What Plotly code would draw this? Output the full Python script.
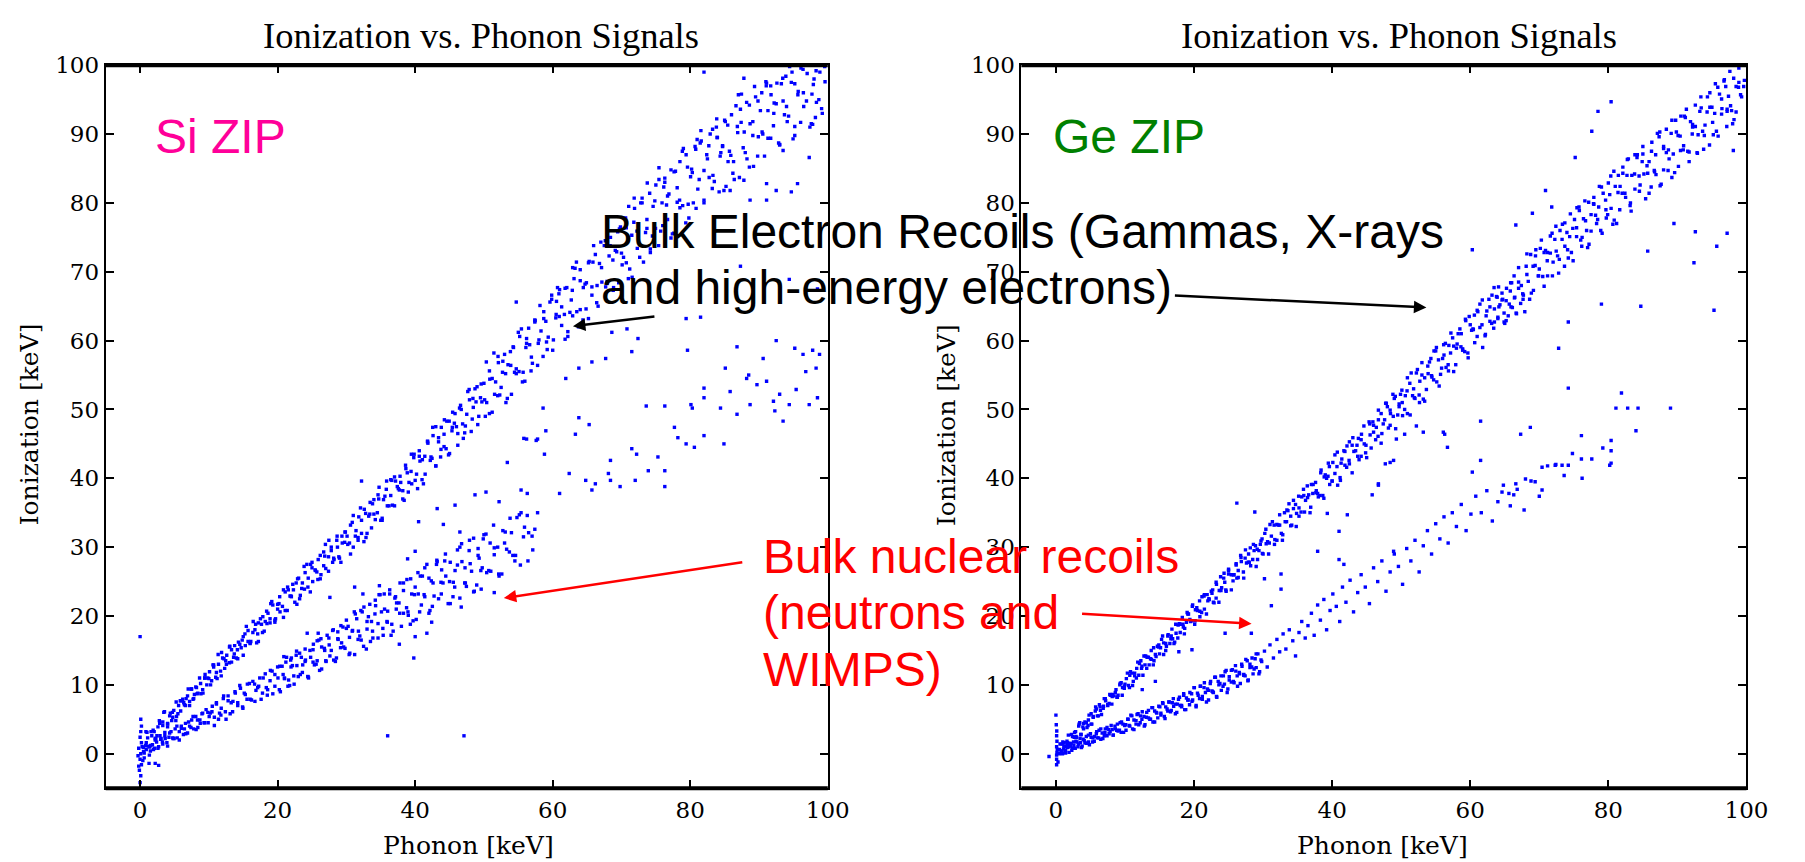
import plotly.graph_objects as go

W, H = 1805, 862

# ---------------- Si ZIP : (phonon keV, ionization keV) ----------------
si_electron = [
    (0.8, 1.2), (1.1, 2.3), (1.4, 1.0), (1.9, 3.4), (2.2, 2.0), (2.6, 3.9), (2.9, 2.6),
    (3.3, 4.6), (3.6, 3.1), (4.0, 4.3), (4.3, 5.5), (4.6, 4.8), (4.9, 6.3), (5.3, 5.4), (5.6, 7.0),
    (5.9, 6.2), (6.2, 7.9), (6.6, 7.0), (6.9, 8.4), (7.2, 7.6), (7.5, 9.4), (7.8, 8.0), (8.1, 9.7),
    (8.4, 8.8), (8.8, 10.2), (9.1, 9.3), (9.4, 11.0), (9.7, 10.0), (10.1, 11.9), (10.4, 10.6),
    (10.7, 12.9), (11.0, 11.1), (11.4, 13.0), (11.7, 12.0), (12.0, 13.9), (12.3, 12.4), (12.6, 14.3),
    (13.0, 13.2), (13.3, 15.1), (13.6, 14.0), (14.0, 13.9), (14.3, 16.2), (14.7, 15.4), (15.0, 17.0),
    (15.3, 15.7), (15.7, 17.9), (16.0, 16.0), (16.4, 17.6), (16.8, 18.8), (17.1, 17.4), (17.5, 19.6),
    (17.8, 17.6), (18.2, 19.2), (18.6, 20.4), (18.9, 19.0), (19.3, 21.6), (19.6, 19.4), (20.0, 21.0),
    (20.3, 22.8), (20.7, 21.4), (21.1, 23.5), (21.4, 20.8), (21.8, 22.9), (22.2, 24.6), (22.5, 22.0),
    (22.9, 25.4), (23.3, 23.0), (23.6, 24.8), (24.0, 26.3), (24.4, 24.2), (24.8, 27.5), (25.1, 25.0),
    (25.5, 26.6), (25.9, 28.2), (26.3, 26.0), (26.7, 29.3), (27.0, 26.9), (27.4, 28.6), (27.8, 30.0),
    (28.2, 28.2), (28.6, 31.0), (29.0, 28.4), (29.4, 30.6), (29.8, 32.2), (30.2, 30.4), (30.6, 33.2),
    (31.0, 30.0), (31.4, 32.4), (31.8, 34.4), (32.2, 32.0), (32.6, 35.5), (33.0, 32.0), (33.4, 34.8),
    (33.8, 36.3), (34.2, 34.0), (34.6, 37.6), (35.0, 33.9), (35.4, 36.9), (35.8, 38.4), (36.2, 36.0),
    (36.6, 39.7), (37.0, 36.0), (37.4, 38.8), (37.8, 40.3), (38.2, 38.2), (38.6, 41.9), (39.0, 38.0),
    (39.4, 41.0), (39.8, 43.0), (40.2, 40.6), (40.6, 44.0), (41.0, 39.8), (41.4, 43.2), (41.8, 45.3),
    (42.2, 42.6), (42.6, 46.2), (43.0, 41.8), (43.4, 45.3), (43.8, 47.4), (44.2, 44.6), (44.6, 48.3),
    (45.0, 43.6), (45.4, 47.4), (45.8, 49.4), (46.2, 46.5), (46.6, 50.6), (47.0, 45.8), (47.5, 49.3),
    (47.9, 51.4), (48.3, 48.6), (48.7, 53.0), (49.1, 47.8), (49.5, 51.7), (50.0, 53.8), (50.4, 51.0),
    (50.8, 55.6), (51.2, 49.6), (51.7, 54.0), (52.1, 56.8), (52.5, 53.2), (53.0, 58.0), (53.4, 51.6),
    (53.9, 56.4), (54.3, 59.0), (54.7, 55.2), (55.2, 60.6), (55.6, 54.0), (56.1, 59.0), (56.5, 61.8),
    (56.9, 57.6), (57.4, 63.0), (57.8, 56.4), (58.3, 61.4), (58.7, 64.2), (59.1, 59.8), (59.6, 65.6),
    (60.0, 58.6), (60.5, 63.8), (60.9, 66.8), (61.3, 62.2), (61.8, 67.6), (62.2, 60.6), (62.7, 65.9),
    (63.1, 69.0), (63.5, 64.2), (64.0, 70.3), (64.4, 63.0), (64.9, 68.4), (65.3, 71.5), (65.7, 66.6),
    (66.2, 72.5), (66.6, 65.0), (67.1, 70.6), (67.5, 73.8), (67.9, 68.6), (68.4, 75.0), (68.8, 67.3),
    (69.3, 72.9), (69.7, 76.2), (70.1, 71.0), (70.6, 77.8), (71.0, 69.0), (71.5, 75.3), (71.9, 79.2),
    (72.3, 73.4), (72.8, 80.0), (73.2, 71.4), (73.7, 77.6), (74.1, 81.4), (74.5, 75.2), (75.0, 82.6),
    (75.4, 73.8), (75.9, 80.0), (76.3, 83.6), (76.7, 77.6), (77.2, 84.8), (77.6, 75.6), (78.1, 82.2),
    (78.5, 86.0), (78.9, 79.6), (79.4, 87.0), (79.8, 77.8), (80.3, 84.4), (80.7, 88.2), (81.1, 82.0),
    (81.6, 89.0), (82.0, 80.0), (82.5, 86.4), (82.9, 90.0), (83.3, 84.0), (83.8, 91.0), (84.2, 81.6),
    (84.7, 88.2), (85.1, 91.8), (85.5, 86.0), (86.0, 92.8), (86.4, 83.4), (86.9, 90.2), (87.3, 93.6),
    (87.7, 88.0), (88.2, 94.6), (88.6, 85.2), (89.1, 91.8), (89.5, 95.4), (89.9, 89.6), (90.4, 96.0),
    (90.8, 86.8), (91.3, 93.4), (91.7, 97.0), (92.1, 91.2), (92.6, 97.4), (93.0, 88.4), (93.5, 94.8),
    (93.9, 98.4), (94.3, 92.6), (94.8, 99.0), (95.2, 89.8), (95.7, 96.2), (96.1, 99.6), (96.5, 94.0),
    (97.0, 98.8), (97.4, 91.0), (97.9, 97.2), (98.3, 99.2), (98.7, 95.0), (99.2, 93.0), (99.6, 97.6),
    (0.5, 0.9), (0.85, 3.2), (1.35, 1.0), (1.6, 3.2), (2.05, 3.2), (2.45, 2.6), (2.8, 4.8), (3.3, 4.1),
    (3.55, 6.1), (4.0, 3.9), (4.4, 5.9), (4.75, 5.3), (5.25, 7.5), (5.5, 5.8), (5.95, 7.7), (6.35, 7.4),
    (6.7, 8.0), (7.2, 7.0), (7.45, 9.4), (7.9, 8.6), (8.3, 8.7), (8.65, 11.0), (9.15, 8.8), (9.4, 11.0),
    (9.85, 11.0), (10.25, 10.0), (10.6, 12.9), (11.1, 11.8), (11.35, 14.4), (11.8, 11.3), (12.2, 13.8),
    (12.55, 13.0), (13.05, 15.6), (13.3, 13.3), (13.75, 15.7), (14.15, 15.1), (14.5, 15.9), (15.0, 14.3),
    (15.25, 17.4), (15.7, 16.3), (16.1, 16.3), (16.45, 19.2), (16.95, 16.1), (17.2, 19.0), (17.65, 18.8),
    (18.05, 17.8), (18.4, 20.7), (18.9, 19.6), (19.15, 22.1), (19.6, 19.1), (20.0, 21.7), (20.35, 20.6),
    (20.85, 23.8), (21.1, 20.8), (21.55, 23.8), (21.95, 22.9), (22.3, 23.8), (22.8, 21.7), (23.05, 25.5),
    (23.5, 24.0), (23.9, 23.9), (24.25, 27.5), (24.75, 23.5), (25.0, 27.0), (25.45, 26.7), (25.85, 25.3),
    (26.2, 28.8), (26.7, 27.3), (26.95, 30.4), (27.4, 26.5), (27.8, 29.5), (28.15, 28.4), (28.65, 31.6),
    (28.9, 28.6), (29.35, 31.6), (29.75, 30.7), (30.1, 31.6), (30.6, 29.0), (30.85, 33.6), (31.3, 31.6),
    (31.7, 31.4), (32.05, 35.7), (32.55, 30.8), (32.8, 34.9), (33.25, 34.5), (33.65, 32.8), (34.0, 36.9),
    (34.5, 35.0), (34.75, 38.7), (35.2, 33.9), (35.6, 37.4), (35.95, 36.0), (36.45, 39.8), (36.7, 36.1),
    (37.15, 39.6), (37.55, 38.5), (37.9, 39.4), (38.4, 36.8), (38.65, 41.4), (39.1, 39.4), (39.5, 39.2),
    (39.85, 43.5), (40.35, 38.5), (40.6, 43.2), (41.05, 42.7), (41.45, 40.6), (41.8, 45.4), (42.3, 43.1),
    (42.55, 47.4), (43.0, 41.8), (43.4, 45.9), (43.75, 44.2), (44.25, 48.5), (44.5, 44.3), (44.95, 48.3),
    (45.35, 46.9), (45.7, 48.0), (46.2, 44.8), (46.45, 50.2), (46.9, 47.9), (47.3, 47.6), (47.65, 52.6),
    (48.15, 46.8), (48.4, 51.6), (48.85, 51.1), (49.25, 49.0), (49.6, 53.7), (50.1, 51.4), (50.35, 56.9),
    (50.8, 49.4), (51.2, 54.5), (51.55, 52.2), (52.05, 57.7), (52.3, 52.1), (52.75, 57.0), (53.15, 55.2),
    (53.5, 56.5), (54.0, 52.2), (54.25, 59.1), (54.7, 55.9), (55.1, 55.5), (55.45, 61.7), (55.95, 54.1),
    (56.2, 60.3), (56.65, 59.4), (57.05, 56.7), (57.4, 62.7), (57.9, 59.6), (58.15, 65.1), (58.6, 57.7),
    (59.0, 62.8), (59.35, 60.5), (59.85, 66.0), (60.1, 60.1), (60.55, 65.7), (60.95, 63.5), (61.3, 64.9),
    (61.8, 60.2), (62.05, 67.7), (62.5, 64.1), (62.9, 63.6), (63.25, 70.5), (63.75, 62.0), (64.0, 68.7),
    (64.45, 67.7), (64.85, 64.6), (65.2, 71.3), (65.7, 67.8), (65.95, 73.8), (66.4, 65.5), (66.8, 71.2),
    (67.15, 68.5), (67.65, 74.5), (67.9, 68.3), (68.35, 73.8), (68.75, 71.7), (69.1, 73.1), (69.6, 68.4),
    (69.85, 76.5), (70.3, 72.1), (70.7, 71.3), (71.05, 79.5), (71.55, 69.2), (71.8, 77.2), (72.25, 75.9),
    (72.65, 72.1), (73.0, 80.0), (73.5, 75.7), (73.75, 82.9), (74.2, 72.8), (74.6, 79.5), (74.95, 76.3),
    (75.45, 83.4), (75.7, 75.9), (76.15, 82.3), (76.55, 79.7), (76.9, 81.3), (77.4, 75.5), (77.65, 84.5),
    (78.1, 80.1), (78.5, 79.3), (78.85, 87.5), (79.35, 77.1), (79.6, 85.2), (80.05, 83.8), (80.45, 80.0),
    (80.8, 87.8), (81.3, 83.4), (81.55, 90.5), (82.0, 80.4), (82.4, 87.0), (82.75, 83.7), (83.25, 90.7),
    (83.5, 83.1), (83.95, 89.5), (84.35, 86.8), (84.7, 88.3), (85.2, 82.4), (85.45, 91.3), (85.9, 86.9),
    (86.3, 86.0), (86.65, 94.1), (87.15, 83.7), (87.4, 91.7), (87.85, 90.3), (88.25, 86.4), (88.6, 94.2),
    (89.1, 89.8), (89.35, 96.9), (89.8, 86.8), (90.2, 93.4), (90.55, 90.0), (91.05, 97.0), (91.3, 89.4),
    (91.75, 95.7), (92.15, 93.0), (92.5, 94.4), (93.0, 88.5), (93.25, 97.3), (93.7, 92.8), (94.1, 91.8),
    (94.45, 99.8), (94.95, 89.3), (95.2, 97.3), (95.65, 95.7), (96.05, 91.7), (96.4, 99.4), (96.9, 94.8),
    (97.6, 91.5), (98.0, 98.0), (98.35, 94.6), (99.1, 93.7), (99.55, 99.8),
    (1.0, 3.1), (1.7, 2.6), (2.2, 2.2), (2.85, 4.4), (3.45, 6.0), (4.0, 4.4), (4.7, 6.0), (5.2, 4.8),
    (5.85, 7.7), (6.45, 7.1), (7.0, 9.4), (7.7, 7.9), (8.2, 9.6), (8.85, 8.7), (9.45, 11.5), (10.0, 10.9),
    (10.7, 12.6), (11.2, 10.9), (11.85, 14.7), (12.45, 13.5), (13.0, 15.5), (13.7, 14.5), (14.2, 13.8),
    (14.85, 16.5), (15.45, 18.5), (16.0, 16.1), (16.7, 18.0), (17.2, 16.3), (17.85, 19.9), (18.45, 18.9),
    (19.0, 21.8), (19.7, 19.6), (20.2, 21.8), (20.85, 19.8), (21.45, 24.2), (22.0, 22.8), (22.7, 24.8),
    (23.2, 22.5), (23.85, 27.2), (24.45, 25.5), (25.0, 27.8), (25.7, 26.4), (26.2, 25.4), (26.85, 28.7),
    (27.45, 31.0), (28.0, 27.8), (28.7, 30.0), (29.2, 27.8), (29.85, 32.2), (30.45, 30.6), (31.0, 34.6),
    (31.7, 31.0), (32.2, 33.9), (32.85, 31.4), (33.45, 36.5), (34.0, 34.8), (34.7, 37.0), (35.2, 34.2),
    (35.85, 39.6), (36.45, 37.5), (37.0, 40.2), (37.7, 38.3), (38.2, 37.0), (38.85, 40.8), (39.45, 43.5),
    (40.0, 39.7), (40.7, 42.5), (41.2, 39.2), (41.85, 45.1), (42.45, 42.9), (43.0, 47.5), (43.7, 43.1),
    (44.2, 46.4), (44.85, 43.4), (45.45, 49.6), (46.0, 47.5), (46.7, 50.0), (47.2, 46.6), (47.85, 52.9),
    (48.45, 50.3), (49.0, 53.3), (49.7, 51.1), (50.2, 49.0), (50.85, 54.4), (51.45, 58.2), (52.0, 52.0),
    (52.7, 55.4), (53.2, 51.0), (53.85, 58.4), (54.45, 55.4), (55.0, 61.2), (55.7, 55.4), (56.2, 59.6),
    (56.85, 55.6), (57.45, 62.9), (58.0, 60.1), (58.7, 63.2), (59.2, 58.7), (59.85, 66.6), (60.45, 63.3),
    (61.0, 67.4), (61.7, 63.8), (62.2, 61.3), (62.85, 67.3), (63.45, 71.4), (64.0, 64.5), (64.7, 68.2),
    (65.2, 63.2), (65.85, 71.4), (66.45, 68.0), (67.0, 74.3), (67.7, 67.8), (68.2, 72.3), (68.85, 67.7),
    (69.45, 75.8), (70.0, 72.7), (70.7, 76.4), (71.2, 70.4), (71.85, 80.7), (72.45, 75.9), (73.0, 80.7),
    (73.7, 76.3), (74.2, 73.3), (74.85, 80.3), (75.45, 85.1), (76.0, 76.7), (76.7, 81.0), (77.2, 74.9),
    (77.85, 84.6), (78.45, 80.4), (79.0, 87.9), (79.7, 79.8), (80.2, 84.9), (80.85, 79.2), (81.45, 88.7),
    (82.0, 84.7), (82.7, 88.3), (83.2, 82.1), (83.85, 92.2), (84.45, 87.3), (85.0, 92.0), (85.7, 87.5),
    (86.2, 84.3), (86.85, 91.1), (87.45, 95.8), (88.0, 87.3), (88.7, 91.5), (89.2, 85.3), (89.85, 94.8),
    (90.45, 90.3), (91.0, 97.6), (91.7, 89.4), (92.2, 94.5), (92.85, 88.7), (93.45, 98.1), (94.0, 94.0),
    (94.7, 97.5), (95.2, 91.1), (96.45, 96.0), (97.7, 95.8), (98.2, 92.4), (98.85, 99.0),
]

si_nuclear = [
    (0.9, 0.6), (1.2, 1.1), (1.5, 0.4), (1.8, 1.3), (2.1, 0.8), (2.4, 1.7), (2.7, 1.0), (3.0, 2.1),
    (3.3, 1.4), (3.6, 2.6), (3.9, 1.6), (4.2, 2.4), (4.5, 3.2), (4.8, 2.2), (5.1, 3.6), (5.4, 2.3),
    (5.7, 3.2), (6.0, 4.0), (6.3, 2.8), (6.6, 4.4), (6.9, 3.0), (7.2, 4.0), (7.5, 4.9), (7.8, 3.6),
    (8.1, 5.4), (8.4, 3.8), (8.7, 4.9), (9.0, 5.8), (9.3, 4.5), (9.6, 6.4), (9.9, 4.5), (10.2, 5.9),
    (10.5, 6.9), (10.8, 5.3), (11.1, 7.4), (11.4, 5.0), (11.8, 6.6), (12.1, 8.0), (12.4, 6.1),
    (12.8, 8.4), (13.1, 5.8), (13.5, 7.6), (13.8, 9.0), (14.2, 7.0), (14.6, 9.5), (14.9, 6.8),
    (15.3, 8.6), (15.6, 10.1), (16.0, 7.9), (16.4, 10.5), (16.7, 7.6), (17.1, 9.6), (17.4, 11.0),
    (17.8, 8.8), (18.2, 11.6), (18.5, 8.5), (18.9, 10.6), (19.2, 12.0), (19.6, 9.8), (20.0, 12.6),
    (20.4, 9.0), (20.8, 11.5), (21.2, 13.3), (21.6, 10.7), (22.0, 13.9), (22.4, 10.1), (22.8, 12.8),
    (23.2, 14.6), (23.6, 11.8), (24.0, 15.2), (24.4, 11.2), (24.8, 14.0), (25.2, 15.9), (25.6, 13.0),
    (26.0, 16.5), (26.4, 12.3), (26.8, 15.3), (27.2, 17.2), (27.6, 14.2), (28.0, 17.9), (28.4, 13.4),
    (28.8, 16.6), (29.2, 18.6), (29.6, 15.5), (30.0, 19.4), (30.4, 14.4), (30.9, 17.9), (31.3, 20.3),
    (31.7, 16.6), (32.1, 20.8), (32.5, 15.6), (33.0, 19.2), (33.4, 21.7), (33.8, 17.8), (34.2, 22.3),
    (34.6, 16.8), (35.1, 20.6), (35.5, 23.2), (35.9, 19.2), (36.3, 23.8), (36.8, 17.8), (37.3, 21.9),
    (37.8, 24.8), (38.3, 20.4), (38.8, 25.3), (39.3, 18.8), (39.9, 23.1), (40.4, 26.3), (40.9, 21.6),
    (41.4, 27.0), (42.0, 20.4), (42.6, 24.8), (43.2, 27.9), (43.8, 23.2), (44.4, 29.0), (45.1, 21.8),
    (45.8, 26.6), (46.5, 30.0), (47.2, 24.8), (47.9, 31.0), (48.6, 23.6), (49.3, 28.4), (50.0, 31.8),
    (50.7, 26.6), (51.4, 33.2), (52.2, 25.8), (53.0, 30.6), (53.8, 34.2), (54.6, 28.8), (55.4, 35.0),
    (56.4, 28.0), (57.4, 32.6),
    (0.6, 0.1), (0.9, 1.6), (1.35, -0.2), (1.55, 1.2), (1.95, 0.6), (2.3, 2.2), (2.6, 0.8), (3.05, 2.2),
    (3.25, 1.7), (3.65, 2.2), (4.0, 1.1), (4.3, 3.0), (4.75, 2.3), (4.95, 2.2), (5.35, 4.0), (5.7, 2.0),
    (6.0, 3.7), (6.45, 3.6), (6.65, 2.9), (7.05, 4.6), (7.4, 3.8), (7.7, 5.4), (8.15, 3.5), (8.35, 4.9),
    (8.75, 4.4), (9.1, 5.9), (9.4, 4.5), (9.85, 6.0), (10.05, 5.4), (10.45, 6.1), (10.8, 4.1), (11.1, 7.2),
    (11.55, 5.9), (11.75, 5.6), (12.15, 8.4), (12.5, 5.0), (12.8, 7.7), (13.25, 7.4), (13.45, 6.1),
    (13.85, 8.8), (14.2, 7.4), (14.5, 9.9), (14.95, 6.6), (15.15, 8.8), (15.55, 7.9), (15.9, 10.2),
    (16.2, 7.8), (16.65, 10.1), (16.85, 9.2), (17.25, 9.8), (17.6, 7.9), (17.9, 11.0), (18.35, 9.6),
    (18.55, 9.3), (18.95, 12.1), (19.3, 8.7), (19.6, 11.5), (20.05, 11.0), (20.25, 9.3), (20.65, 12.7),
    (21.0, 10.9), (21.3, 14.0), (21.75, 9.9), (21.95, 12.6), (22.35, 11.3), (22.7, 14.3), (23.0, 11.2),
    (23.45, 14.0), (23.65, 12.9), (24.05, 13.6), (24.4, 11.2), (24.7, 15.0), (25.15, 13.3), (25.35, 12.9),
    (25.75, 16.4), (26.1, 12.1), (26.4, 15.5), (26.85, 15.0), (27.05, 13.4), (27.45, 16.8), (27.8, 15.0),
    (28.1, 18.0), (28.55, 13.9), (28.75, 16.7), (29.15, 15.4), (29.5, 18.4), (29.8, 15.3), (30.25, 18.5),
    (30.45, 16.9), (30.85, 17.8), (31.2, 14.4), (31.5, 19.6), (31.95, 17.1), (32.15, 16.5), (32.55, 21.3),
    (32.9, 15.2), (33.2, 19.9), (33.65, 19.2), (33.85, 16.8), (34.25, 21.5), (34.6, 18.9), (34.9, 23.1),
    (35.35, 17.2), (35.55, 21.0), (35.95, 19.1), (36.3, 23.2), (36.6, 18.8), (37.05, 22.6), (37.25, 21.0),
    (37.65, 21.9), (38.0, 18.5), (38.3, 23.7), (38.75, 21.2), (38.95, 20.6), (39.35, 25.4), (39.7, 19.3),
    (40.0, 24.2), (40.45, 23.2), (40.65, 20.6), (41.05, 25.8), (41.4, 22.8), (41.7, 27.5), (42.15, 20.8),
    (42.35, 25.1), (42.75, 22.9), (43.1, 27.5), (43.4, 22.5), (43.85, 26.7), (44.05, 24.8), (44.45, 25.8),
    (44.8, 21.8), (45.1, 27.8), (45.55, 24.9), (45.75, 24.2), (46.15, 29.6), (46.5, 22.6), (46.8, 27.9),
    (47.25, 27.0), (47.45, 24.3), (47.85, 29.5), (48.2, 26.5), (48.5, 31.3), (48.95, 24.5), (49.15, 28.8),
    (49.55, 26.6), (49.9, 31.2), (50.4, 26.3), (50.9, 30.6), (51.5, 28.9), (52.0, 30.0), (52.6, 26.1),
    (53.1, 32.2), (53.7, 29.3), (54.2, 28.8), (54.8, 34.3), (55.3, 27.4), (55.9, 32.9), (56.5, 32.1),
    (57.1, 29.6), (57.8, 35.0),
    (20.3, 12.7), (21.0, 11.0), (21.5, 9.8), (22.15, 12.8), (22.75, 14.9), (23.3, 11.5), (24.0, 13.4),
    (24.5, 11.0), (25.15, 15.1), (25.75, 13.5), (26.3, 16.7), (27.0, 13.5), (27.5, 15.8), (28.15, 13.6),
    (28.75, 17.7), (29.3, 16.1), (30.0, 18.2), (30.5, 14.6), (31.15, 20.6), (31.75, 17.8), (32.3, 20.6),
    (33.0, 18.1), (33.5, 16.3), (34.15, 20.3), (34.75, 23.1), (35.3, 18.2), (36.0, 20.7), (36.5, 17.2),
    (37.15, 22.8), (37.75, 20.4), (38.3, 24.8), (39.0, 20.1), (39.5, 23.2), (40.15, 19.5), (40.75, 25.8),
    (41.3, 23.1), (42.0, 25.5), (42.5, 21.4), (43.15, 28.1), (43.75, 24.9), (44.3, 28.0), (45.0, 25.0),
    (45.5, 22.8), (46.15, 27.4), (46.75, 30.5), (47.3, 24.8), (48.0, 27.6), (48.5, 23.5), (49.15, 29.8),
    (49.75, 27.0), (50.3, 31.9), (51.0, 26.5), (51.5, 29.9), (52.15, 26.1), (52.75, 32.4), (53.3, 29.7),
    (54.0, 32.1), (54.5, 28.0), (55.15, 34.7), (55.75, 31.5), (56.3, 34.6), (57.0, 31.6),
    (61.0, 37.8), (62.4, 40.7), (64.8, 39.7), (65.7, 38.3), (66.2, 39.2), (68.1, 40.7), (68.4, 39.7),
    (69.8, 38.8), (72.0, 39.7), (73.9, 41.1), (76.3, 41.1), (76.3, 38.8), (75.3, 43.1), (78.2, 45.9),
    (79.4, 45.0), (80.6, 44.5), (82.0, 46.2), (84.9, 45.0), (77.7, 47.4), (80.3, 50.2), (82.0, 51.7),
    (84.4, 50.2), (86.8, 49.3), (88.7, 50.7), (85.8, 52.6), (88.2, 54.5), (91.1, 54.1), (92.1, 51.2),
    (94.4, 50.7), (93.5, 48.3), (92.3, 49.8), (93.0, 52.2), (95.4, 52.9), (97.3, 50.7), (98.5, 51.7),
    (96.8, 55.5), (95.2, 58.9), (96.4, 58.0), (97.8, 58.6), (98.8, 58.0), (90.6, 57.4), (92.5, 60.0),
    (85.1, 56.0), (88.5, 55.0), (76.3, 50.5), (73.6, 50.5), (80.1, 50.7), (71.5, 44.3), (68.4, 42.6),
    (72.2, 43.5), (82.0, 53.1), (79.6, 58.6), (86.8, 59.1), (89.7, 53.6), (58.8, 43.5), (59.0, 46.9),
    (56.2, 45.7), (63.8, 48.8), (65.3, 47.8), (63.3, 46.4), (58.6, 50.2), (57.6, 45.5), (98.3, 56.0),
]

si_other = [
    (0.0, -4.2), (0.1, -3.2), (-0.1, -2.4), (0.2, -1.6), (0.0, -0.8), (0.1, 0.0), (-0.2, 0.8),
    (0.2, 1.6), (0.0, 2.4), (0.1, 3.2), (0.2, 4.0), (0.1, 5.0), (-0.3, -0.3), (0.4, -1.0), (0.3, 1.0),
    (0.5, 0.3), (-0.2, -1.8), (0.6, -0.6), (0.0, 17.0), (1.3, -1.4), (2.2, -1.4), (2.7, -1.7),
    (36.0, 2.6), (47.1, 2.6), (32.2, 39.6), (39.8, 13.9), (37.7, 15.9), (53.4, 42.3), (55.8, 45.8),
    (57.8, 45.7), (48.7, 37.6), (50.3, 38.0), (52.2, 36.6), (55.4, 38.3), (56.3, 37.8), (45.8, 36.1),
    (43.2, 35.6), (44.1, 33.3), (46.5, 32.2), (40.5, 33.7), (38.9, 28.3), (40.0, 29.4), (34.8, 24.4),
    (31.2, 24.2), (32.4, 23.2), (27.6, 22.7), (24.3, 17.5), (25.9, 17.5), (20.9, 14.1), (21.9, 13.6),
    (49.6, 23.9), (51.5, 23.4), (42.4, 19.1), (41.7, 17.5), (40.0, 17.0), (46.7, 21.3),
    (91.1, 82.8), (92.5, 81.8), (94.7, 81.6), (95.6, 82.8), (97.3, 86.6), (97.8, 91.4), (93.5, 87.6),
    (84.9, 81.8), (85.8, 81.8), (88.7, 80.4), (91.1, 80.4), (87.8, 83.3), (81.0, 89.2), (82.0, 99.0),
    (87.8, 98.1), (79.4, 63.2), (81.5, 63.4), (71.5, 58.4), (67.7, 57.4), (68.6, 61.2), (70.8, 61.7),
    (72.4, 60.3), (65.7, 56.9), (61.9, 54.5), (63.8, 56.0), (87.3, 70.8), (94.4, 68.9), (98.5, 67.5),
    (54.7, 65.6), (62.9, 70.6), (60.7, 67.7), (76.3, 83.0), (83.9, 89.5), (87.0, 95.7), (91.1, 97.4),
]

# ---------------- Ge ZIP : (phonon keV, ionization keV) ----------------
ge_electron = [
    (0.6, 1.4), (0.9, 0.4), (1.2, 1.6), (1.5, 1.0), (1.8, 2.7), (2.1, 1.4), (2.4, 2.5), (2.7, 3.1),
    (3.0, 2.4), (3.3, 4.0), (3.6, 2.8), (3.9, 3.9), (4.2, 4.6), (4.5, 3.8), (4.8, 5.6), (5.1, 4.3),
    (5.4, 5.4), (5.7, 6.2), (6.0, 5.5), (6.3, 7.1), (6.6, 5.7), (6.9, 6.9), (7.2, 7.7), (7.5, 7.0),
    (7.8, 8.6), (8.1, 7.2), (8.4, 8.4), (8.7, 9.3), (9.0, 8.5), (9.3, 10.2), (9.6, 8.5), (9.9, 9.8),
    (10.2, 10.9), (10.5, 9.9), (10.8, 11.9), (11.1, 9.9), (11.4, 11.3), (11.7, 12.4), (12.0, 11.4),
    (12.3, 13.5), (12.6, 11.4), (12.9, 12.9), (13.2, 14.0), (13.5, 12.9), (13.8, 15.0), (14.1, 12.9),
    (14.4, 14.4), (14.7, 15.6), (15.0, 14.5), (15.3, 16.6), (15.6, 14.4), (15.9, 16.0), (16.2, 17.1),
    (16.5, 16.0), (16.8, 18.1), (17.1, 16.0), (17.4, 17.5), (17.7, 18.7), (18.0, 17.6), (18.3, 19.8),
    (18.6, 17.4), (18.9, 19.1), (19.2, 20.3), (19.5, 19.2), (19.8, 21.6), (20.1, 18.8), (20.5, 20.8),
    (20.8, 22.2), (21.1, 20.5), (21.5, 23.1), (21.8, 20.3), (22.2, 22.4), (22.5, 23.6), (22.8, 22.0),
    (23.2, 24.9), (23.6, 22.0), (24.0, 24.1), (24.3, 25.5), (24.6, 23.8), (25.0, 26.8), (25.4, 23.8),
    (25.8, 26.0), (26.1, 27.4), (26.4, 25.6), (26.8, 28.5), (27.2, 25.5), (27.6, 27.7), (27.9, 29.0),
    (28.2, 27.3), (28.6, 30.4), (29.0, 27.2), (29.4, 29.5), (29.7, 30.9), (30.0, 29.0), (30.4, 32.6),
    (30.8, 29.0), (31.2, 31.6), (31.6, 33.2), (32.0, 31.0), (32.4, 34.7), (32.8, 31.0), (33.2, 33.7),
    (33.6, 35.3), (34.0, 33.1), (34.4, 36.8), (34.8, 33.0), (35.2, 35.7), (35.6, 37.3), (36.0, 35.1),
    (36.4, 38.9), (36.8, 35.0), (37.2, 37.8), (37.6, 39.4), (38.0, 37.3), (38.4, 41.2), (38.8, 37.1),
    (39.2, 40.0), (39.6, 41.7), (40.0, 39.6), (40.4, 43.4), (40.8, 39.0), (41.3, 42.2), (41.7, 44.0),
    (42.1, 41.6), (42.5, 45.3), (42.9, 40.8), (43.4, 44.0), (43.8, 45.8), (44.2, 43.2), (44.6, 47.6),
    (45.0, 43.0), (45.5, 46.3), (45.9, 48.2), (46.3, 45.6), (46.7, 49.9), (47.1, 45.1), (47.6, 48.5),
    (48.0, 50.4), (48.4, 47.7), (48.8, 52.2), (49.2, 47.2), (49.7, 50.8), (50.1, 52.8), (50.5, 50.0),
    (50.9, 54.6), (51.3, 49.2), (51.8, 53.0), (52.2, 55.3), (52.6, 52.1), (53.0, 56.8), (53.4, 51.2),
    (53.9, 55.2), (54.3, 57.4), (54.7, 54.3), (55.1, 59.0), (55.5, 53.4), (56.0, 57.4), (56.4, 59.6),
    (56.8, 56.5), (57.2, 61.1), (57.6, 55.5), (58.1, 59.5), (58.5, 61.7), (58.9, 58.6), (59.3, 63.1),
    (59.7, 57.5), (60.2, 61.5), (60.6, 63.7), (61.0, 60.6), (61.4, 65.3), (61.8, 59.0), (62.3, 63.6),
    (62.7, 66.0), (63.1, 62.5), (63.5, 64.6), (63.8, 66.4), (64.0, 63.2), (64.3, 65.2), (64.6, 66.9),
    (64.9, 64.0), (65.2, 65.8), (65.5, 63.6), (65.8, 67.2), (66.1, 64.8), (66.4, 66.2), (66.7, 63.9),
    (67.0, 67.6), (67.3, 65.4), (64.1, 67.8), (65.0, 62.5), (66.0, 68.4), (63.4, 61.8), (67.6, 66.8),
    (67.9, 64.2), (68.2, 72.6), (68.6, 66.0), (69.1, 70.8), (69.5, 73.2), (69.9, 69.4), (70.3, 74.6),
    (70.7, 67.9), (71.2, 72.8), (71.6, 75.2), (72.0, 71.4), (72.4, 76.6), (72.8, 69.8), (73.3, 74.7),
    (73.7, 77.1), (74.1, 73.2), (74.5, 78.4), (74.9, 71.6), (75.4, 76.4), (75.8, 78.9), (76.2, 75.0),
    (76.6, 80.3), (77.0, 73.5), (77.5, 78.3), (77.9, 80.8), (78.3, 77.0), (78.7, 82.4), (79.1, 75.6),
    (79.6, 80.4), (80.0, 82.9), (80.4, 79.2), (80.8, 84.6), (81.2, 77.0), (81.7, 82.4), (82.1, 85.2),
    (82.5, 80.8), (82.9, 86.4), (83.3, 78.8), (83.8, 84.2), (84.2, 87.0), (84.6, 82.6), (85.0, 88.2),
    (85.4, 80.6), (85.9, 86.0), (86.3, 88.8), (86.7, 84.5), (87.1, 90.1), (87.5, 82.5), (88.0, 87.9),
    (88.4, 90.7), (88.8, 86.4), (89.2, 92.0), (89.6, 84.4), (90.1, 89.8), (90.5, 92.6), (90.9, 88.3),
    (91.3, 93.6), (91.7, 86.0), (92.2, 91.4), (92.6, 94.2), (93.0, 89.9), (93.4, 95.4), (93.8, 87.8),
    (94.3, 93.2), (94.7, 96.0), (95.1, 91.7), (95.5, 97.3), (95.9, 89.7), (96.4, 95.1), (96.8, 97.9),
    (97.2, 93.6), (97.6, 99.1), (98.0, 91.5), (98.5, 96.9), (98.9, 99.6), (99.3, 95.4), (99.7, 97.8),
    (0.5, 0.0), (0.9, 1.4), (1.15, 1.1), (1.6, 1.8), (1.9, 1.0), (2.25, 2.8), (2.65, 2.4), (2.9, 2.5),
    (3.35, 4.3), (3.65, 2.8), (4.0, 4.4), (4.4, 4.5), (4.65, 4.1), (5.1, 5.8), (5.4, 5.3), (5.75, 6.8),
    (6.15, 5.5), (6.4, 6.8), (6.85, 6.6), (7.15, 8.0), (7.5, 7.1), (7.9, 8.5), (8.15, 8.3), (8.6, 8.9),
    (8.9, 8.2), (9.25, 10.0), (9.65, 9.6), (9.9, 9.5), (10.35, 11.7), (10.65, 9.6), (11.0, 11.7),
    (11.4, 11.7), (11.65, 11.0), (12.1, 13.1), (12.4, 12.4), (12.75, 14.2), (13.15, 12.4), (13.4, 14.0),
    (13.85, 13.7), (14.15, 15.4), (14.5, 14.1), (14.9, 15.8), (15.15, 15.4), (15.6, 16.1), (15.9, 15.0),
    (16.25, 17.3), (16.65, 16.7), (16.9, 16.7), (17.35, 18.8), (17.65, 16.8), (18.0, 18.8), (18.4, 18.8),
    (18.65, 18.2), (19.1, 20.3), (19.4, 19.5), (19.75, 21.4), (20.15, 19.3), (20.4, 21.2), (20.85, 20.7),
    (21.15, 22.8), (21.5, 21.0), (21.9, 23.1), (22.15, 22.5), (22.6, 23.3), (22.9, 21.9), (23.25, 24.6),
    (23.65, 23.7), (23.9, 23.7), (24.35, 26.2), (24.65, 23.6), (25.0, 26.1), (25.4, 26.0), (25.65, 25.1),
    (26.1, 27.6), (26.4, 26.6), (26.75, 28.8), (27.15, 26.4), (27.4, 28.4), (27.85, 27.8), (28.15, 29.9),
    (28.5, 28.2), (28.9, 30.2), (29.15, 29.7), (29.6, 30.4), (29.9, 29.1), (30.25, 32.0), (30.65, 30.8),
    (30.9, 30.6), (31.35, 33.7), (31.65, 30.4), (32.0, 33.3), (32.4, 33.2), (32.65, 32.0), (33.1, 35.0),
    (33.4, 33.7), (33.75, 36.3), (34.15, 33.2), (34.4, 35.6), (34.85, 34.9), (35.15, 37.4), (35.5, 35.1),
    (35.9, 37.5), (36.15, 36.8), (36.6, 37.6), (36.9, 35.8), (37.25, 39.1), (37.65, 37.9), (37.9, 37.8),
    (38.35, 40.8), (38.65, 37.5), (39.0, 40.5), (39.4, 40.3), (39.65, 39.1), (40.1, 42.3), (40.4, 40.7),
    (40.75, 43.8), (41.15, 40.1), (41.4, 42.8), (41.85, 41.9), (42.15, 44.7), (42.5, 42.1), (42.9, 44.8),
    (43.15, 43.9), (43.6, 44.8), (43.9, 42.7), (44.25, 46.4), (44.65, 45.0), (44.9, 44.8), (45.35, 48.2),
    (45.65, 44.4), (46.0, 47.7), (46.4, 47.4), (46.65, 46.1), (47.1, 49.4), (47.4, 47.9), (47.75, 50.9),
    (48.15, 47.3), (48.4, 49.9), (48.85, 49.0), (49.15, 51.9), (49.5, 49.2), (49.9, 52.2), (50.15, 51.0),
    (50.6, 52.0), (50.9, 49.4), (51.25, 53.8), (51.65, 52.0), (51.9, 51.7), (52.35, 55.8), (52.65, 51.0),
    (53.0, 55.0), (53.4, 54.6), (53.65, 52.9), (54.1, 56.9), (54.4, 54.9), (54.75, 58.5), (55.15, 54.0),
    (55.4, 57.2), (55.85, 56.0), (56.15, 59.4), (56.5, 56.1), (56.9, 59.3), (57.15, 58.2), (57.6, 59.2),
    (57.9, 56.5), (58.25, 61.0), (58.65, 59.1), (58.9, 58.8), (59.35, 62.9), (59.65, 58.2), (60.0, 62.3),
    (60.4, 61.7), (60.65, 59.7), (61.1, 64.2), (61.4, 61.9), (61.75, 65.9), (62.15, 60.7), (62.4, 64.3),
    (62.85, 62.8), (63.15, 66.6), (63.5, 62.7), (63.9, 66.3), (64.15, 64.9), (64.6, 65.9), (64.9, 62.7),
    (65.25, 67.6), (65.65, 65.3), (65.9, 64.9), (66.35, 69.4), (66.65, 64.0), (67.0, 68.5), (67.4, 68.0),
    (67.65, 66.0), (68.1, 70.8), (68.4, 68.6), (68.75, 72.5), (69.15, 67.3), (69.4, 70.9), (69.85, 69.4),
    (70.15, 73.4), (70.5, 69.3), (70.9, 73.1), (71.15, 71.6), (71.6, 72.7), (71.9, 69.4), (72.25, 74.7),
    (72.65, 72.3), (72.9, 71.8), (73.35, 76.9), (73.65, 70.8), (74.0, 75.7), (74.4, 75.1), (74.65, 72.8),
    (75.1, 77.6), (75.4, 75.1), (75.75, 79.4), (76.15, 73.7), (76.4, 77.7), (76.85, 76.0), (77.15, 80.1),
    (77.5, 75.9), (77.9, 79.8), (78.15, 78.2), (78.6, 79.4), (78.9, 76.0), (79.25, 81.4), (79.65, 79.0),
    (79.9, 78.3), (80.35, 83.9), (80.65, 76.9), (81.0, 82.4), (81.4, 81.5), (81.65, 79.0), (82.1, 84.3),
    (82.4, 81.4), (82.75, 86.3), (83.15, 79.6), (83.4, 84.0), (83.85, 82.0), (84.15, 86.6), (84.5, 81.7),
    (84.9, 86.0), (85.15, 84.2), (85.6, 85.4), (85.9, 81.4), (86.25, 87.5), (86.65, 84.7), (86.9, 84.1),
    (87.35, 89.6), (87.65, 82.7), (88.0, 88.2), (88.4, 87.3), (88.65, 84.7), (89.1, 90.1), (89.4, 87.1),
    (89.75, 92.0), (90.15, 85.3), (90.4, 89.7), (90.85, 87.7), (91.15, 92.4), (91.5, 87.5), (91.9, 91.8),
    (92.15, 90.0), (92.6, 91.1), (92.9, 87.2), (93.25, 93.3), (93.65, 90.4), (93.9, 89.8), (94.35, 95.4),
    (94.65, 88.4), (95.0, 93.9), (95.4, 93.0), (95.65, 90.4), (96.1, 95.8), (96.4, 92.9), (96.75, 97.7),
    (97.15, 91.1), (97.4, 95.5), (97.85, 93.4), (98.15, 98.1), (98.5, 93.2), (98.9, 97.5), (99.15, 95.7),
    (99.6, 96.9),
    (1.0, 1.7), (1.7, 1.6), (2.2, 1.5), (2.85, 3.2), (3.45, 4.5), (4.0, 3.6), (4.7, 4.9), (5.2, 4.3),
    (5.85, 6.5), (6.45, 6.3), (7.0, 8.0), (7.7, 7.3), (8.2, 8.6), (8.85, 8.2), (9.45, 10.3), (10.0, 10.1),
    (10.7, 11.4), (11.2, 10.5), (11.85, 13.3), (12.45, 12.7), (13.0, 14.2), (13.7, 13.8), (14.2, 13.5),
    (14.85, 15.5), (15.45, 17.1), (16.0, 15.6), (16.7, 17.1), (17.2, 16.2), (17.85, 18.9), (18.45, 18.4),
    (19.0, 20.5), (19.7, 19.3), (20.2, 20.9), (20.85, 19.9), (21.45, 22.9), (22.0, 22.2), (22.7, 23.8),
    (23.2, 22.6), (23.85, 25.7), (24.45, 24.9), (25.0, 26.6), (25.7, 26.0), (26.2, 25.5), (26.85, 27.9),
    (27.45, 29.6), (28.0, 27.8), (28.7, 29.5), (29.2, 28.2), (29.85, 31.2), (30.45, 30.5), (31.0, 33.3),
    (31.7, 31.1), (32.2, 33.2), (32.85, 31.8), (33.45, 35.4), (34.0, 34.5), (34.7, 36.2), (35.2, 34.5),
    (35.85, 38.4), (36.45, 37.2), (37.0, 39.1), (37.7, 38.2), (38.2, 37.5), (38.85, 40.2), (39.45, 42.2),
    (40.0, 39.6), (40.7, 41.7), (41.2, 39.7), (41.85, 43.9), (42.45, 42.6), (43.0, 45.9), (43.7, 43.2),
    (44.2, 45.6), (44.85, 43.7), (45.45, 47.9), (46.0, 46.7), (46.7, 48.5), (47.2, 46.5), (47.85, 50.9),
    (48.45, 49.4), (49.0, 51.6), (49.7, 50.4), (50.2, 49.1), (50.85, 52.7), (51.45, 55.3), (52.0, 51.6),
    (52.7, 54.1), (53.2, 51.5), (53.85, 56.3), (54.45, 54.7), (55.0, 58.5), (55.7, 55.1), (56.2, 57.9),
    (56.85, 55.6), (57.45, 60.4), (58.0, 58.9), (58.7, 61.0), (59.2, 58.4), (59.85, 63.5), (60.45, 61.6),
    (61.0, 64.4), (61.7, 62.3), (62.2, 60.9), (62.85, 64.9), (63.45, 67.7), (64.0, 63.4), (64.7, 66.0),
    (65.2, 62.9), (65.85, 68.4), (66.45, 66.3), (67.0, 70.6), (67.7, 66.6), (68.2, 69.6), (68.85, 66.9),
    (69.45, 72.3), (70.0, 70.4), (70.7, 72.8), (71.2, 69.4), (71.85, 75.6), (72.45, 73.0), (73.0, 76.0),
    (73.7, 73.7), (74.2, 72.0), (74.85, 76.3), (75.45, 79.3), (76.0, 74.6), (76.7, 77.4), (77.2, 74.0),
    (77.85, 79.9), (78.45, 77.6), (79.0, 82.3), (79.7, 77.8), (80.2, 81.2), (80.85, 77.5), (81.45, 84.0),
    (82.0, 81.4), (82.7, 84.0), (83.2, 80.0), (83.85, 87.0), (84.45, 83.9), (85.0, 87.1), (85.7, 84.3),
    (86.2, 82.3), (86.85, 87.0), (87.45, 90.3), (88.0, 84.8), (88.7, 87.7), (89.2, 83.7), (89.85, 90.3),
    (90.45, 87.6), (91.0, 92.6), (91.7, 87.4), (92.2, 91.0), (92.85, 87.3), (93.45, 93.8), (94.0, 91.3),
    (94.7, 93.9), (95.2, 89.9), (95.85, 96.8), (96.45, 93.7), (97.0, 96.9), (97.7, 94.1), (98.2, 92.1),
    (98.85, 96.8),
]

ge_nuclear = [
    (0.8, 0.2), (1.1, 0.7), (1.4, 0.1), (1.7, 0.9), (2.0, 1.5), (2.3, 0.5), (2.6, 1.2), (2.9, 1.8),
    (3.2, 1.0), (3.5, 2.2), (3.8, 1.1), (4.1, 1.9), (4.4, 2.5), (4.7, 1.7), (5.0, 2.9), (5.3, 1.7),
    (5.6, 2.5), (5.9, 3.2), (6.2, 2.3), (6.5, 3.6), (6.8, 2.2), (7.1, 3.1), (7.4, 3.8), (7.7, 2.9),
    (8.0, 4.1), (8.3, 2.7), (8.6, 3.6), (8.9, 4.3), (9.2, 3.4), (9.5, 4.6), (9.8, 3.1), (10.1, 4.2),
    (10.4, 5.0), (10.7, 4.0), (11.0, 5.5), (11.3, 3.5), (11.6, 4.8), (11.9, 5.8), (12.2, 4.5),
    (12.5, 6.1), (12.8, 4.0), (13.1, 5.3), (13.4, 6.3), (13.7, 5.0), (14.0, 6.7), (14.3, 4.6),
    (14.6, 5.9), (14.9, 6.9), (15.2, 5.6), (15.5, 7.3), (15.8, 5.1), (16.1, 6.5), (16.4, 7.5),
    (16.7, 6.3), (17.0, 8.0), (17.3, 5.8), (17.6, 7.2), (17.9, 8.2), (18.2, 7.0), (18.5, 8.7),
    (18.8, 6.4), (19.1, 7.8), (19.4, 8.9), (19.7, 7.6), (20.0, 9.6), (20.3, 6.8), (20.6, 8.5),
    (20.9, 9.8), (21.2, 8.3), (21.5, 10.3), (21.8, 7.5), (22.1, 9.2), (22.4, 10.5), (22.7, 9.0),
    (23.0, 11.1), (23.3, 8.2), (23.6, 10.0), (23.9, 11.3), (24.2, 9.8), (24.5, 11.9), (24.8, 8.9),
    (25.1, 10.7), (25.4, 12.1), (25.7, 10.5), (26.0, 12.8), (26.3, 9.8), (26.6, 11.6), (26.9, 13.0),
    (27.2, 11.4), (27.5, 13.7), (27.8, 10.6), (28.1, 12.5), (28.4, 13.9), (28.7, 12.3), (29.0, 14.5),
    (29.4, 11.6), (29.8, 13.4), (30.2, 14.9),
    (0.5, 0.6), (0.75, 0.4), (0.95, 0.0), (1.25, 1.1), (1.4, 0.5), (1.65, 1.5), (1.9, 0.2), (2.1, 1.1),
    (2.4, 0.8), (2.55, 1.7), (2.8, 0.8), (3.05, 1.7), (3.25, 1.4), (3.55, 1.6), (3.7, 0.9), (3.95, 2.1),
    (4.2, 1.6), (4.4, 1.5), (4.7, 2.7), (4.85, 1.3), (5.1, 2.4), (5.35, 2.3), (5.55, 1.8), (5.85, 2.9),
    (6.0, 2.3), (6.25, 3.4), (6.5, 2.1), (6.7, 3.0), (7.0, 2.6), (7.15, 3.6), (7.4, 2.6), (7.65, 3.5),
    (7.85, 3.2), (8.15, 3.5), (8.3, 2.7), (8.55, 4.0), (8.8, 3.4), (9.0, 3.3), (9.3, 4.5), (9.45, 3.1),
    (9.7, 4.3), (9.95, 4.1), (10.15, 3.4), (10.45, 5.0), (10.6, 4.1), (10.85, 5.6), (11.1, 3.6),
    (11.3, 4.9), (11.6, 4.3), (11.75, 5.7), (12.0, 4.2), (12.25, 5.5), (12.45, 5.0), (12.75, 5.4),
    (12.9, 4.2), (13.15, 6.0), (13.4, 5.2), (13.6, 5.0), (13.9, 6.7), (14.05, 4.6), (14.3, 6.2),
    (14.55, 6.0), (14.75, 5.2), (15.05, 6.8), (15.2, 5.9), (15.45, 7.4), (15.7, 5.4), (15.9, 6.8),
    (16.2, 6.2), (16.35, 7.5), (16.6, 6.1), (16.85, 7.4), (17.05, 6.9), (17.35, 7.2), (17.5, 6.0),
    (17.75, 7.9), (18.0, 7.0), (18.2, 6.8), (18.5, 8.5), (18.65, 6.4), (18.9, 8.1), (19.15, 7.8),
    (19.35, 7.1), (19.65, 8.7), (19.8, 7.8), (20.05, 9.6), (20.3, 7.0), (20.5, 8.8), (20.8, 8.0),
    (20.95, 9.8), (21.2, 7.9), (21.45, 9.6), (21.65, 8.9), (21.95, 9.4), (22.1, 7.8), (22.35, 10.2),
    (22.6, 9.1), (22.8, 8.9), (23.1, 11.1), (23.25, 8.3), (23.5, 10.5), (23.75, 10.2), (23.95, 9.2),
    (24.25, 11.3), (24.4, 10.1), (24.65, 12.1), (24.9, 9.4), (25.1, 11.2), (25.4, 10.4), (25.55, 12.2),
    (25.8, 10.3), (26.05, 12.0), (26.25, 11.3), (26.55, 11.8), (26.7, 10.2), (26.95, 12.7), (27.2, 11.5),
    (27.4, 11.3), (27.7, 13.5), (27.85, 10.7), (28.1, 13.0), (28.35, 12.6), (28.55, 11.6), (28.85, 13.8),
    (29.0, 12.5), (29.25, 14.5), (29.5, 11.9), (29.7, 13.6),
    (30.6, 12.6), (31.0, 15.8), (31.5, 13.9), (32.0, 16.6), (32.4, 14.8), (32.9, 17.4), (33.3, 15.2),
    (33.8, 18.0), (34.3, 16.4), (34.7, 14.2), (35.2, 17.6), (35.6, 19.2), (36.1, 16.8), (36.5, 18.6),
    (37.0, 20.4), (37.4, 17.2), (37.9, 21.6), (38.3, 19.4), (38.8, 22.4), (39.2, 18.0), (39.7, 20.8),
    (40.1, 23.2), (40.6, 21.4), (41.1, 19.2), (41.5, 24.2), (42.0, 22.0), (42.6, 25.2), (43.1, 20.6),
    (43.7, 23.4), (44.2, 26.0), (44.8, 24.2), (45.4, 21.8), (46.0, 27.0), (46.6, 25.0), (47.2, 28.0),
    (47.8, 23.6), (48.4, 26.4), (49.0, 29.0), (49.6, 27.2), (50.2, 24.6), (50.8, 29.8), (51.4, 28.0),
    (52.0, 31.0), (52.6, 26.4), (53.2, 30.2), (53.8, 32.4), (54.4, 29.0), (55.0, 33.4), (55.6, 31.2),
    (56.2, 34.4), (56.8, 30.6), (57.4, 35.0), (58.0, 33.0), (58.7, 36.2), (59.4, 32.4), (60.1, 34.8),
    (60.8, 37.4), (61.6, 35.0), (62.4, 38.2), (63.2, 33.8), (64.0, 36.6), (64.8, 39.0), (65.8, 36.0),
    (66.8, 38.4), (67.8, 35.4), (68.8, 39.6), (70.0, 37.4), (71.2, 41.8), (72.4, 42.0), (73.6, 40.4),
    (74.8, 43.6), (76.2, 40.0), (77.6, 42.8), (79.2, 44.4), (80.4, 42.2),
]

ge_other = [
    (0.1, -1.6), (0.1, -0.8), (0.15, 0.2), (0.1, 1.0), (0.15, 1.8), (0.1, 2.6), (0.12, 3.3),
    (0.1, -0.2), (0.2, 0.6), (0.0, 5.6), (-1.0, -0.4), (0.3, -1.2), (0.05, 4.2),
    (26.2, 36.4), (28.8, 35.1), (30.2, 25.4), (31.2, 21.5), (28.3, 17.5), (24.5, 17.5), (19.7, 15.1),
    (17.8, 14.8), (12.5, 9.3), (14.4, 10.5), (32.6, 26.1), (32.6, 23.9), (37.9, 29.4), (41.0, 28.2),
    (41.7, 27.5), (45.8, 37.6), (46.7, 39.0), (48.4, 42.3), (48.9, 29.4), (42.2, 34.7), (39.3, 34.9),
    (41.0, 32.3), (56.1, 46.7), (53.2, 46.7),
    (60.3, 73.2), (66.6, 76.8), (70.9, 81.8), (69.0, 78.5), (71.8, 79.4), (75.2, 86.6), (77.6, 90.4),
    (78.5, 93.3), (80.4, 94.7), (72.8, 58.9), (74.2, 62.7), (79.0, 65.3), (84.7, 65.0), (95.3, 64.4),
    (85.7, 73.0), (89.5, 77.0), (92.6, 75.8), (97.2, 75.6), (98.1, 87.6), (92.4, 71.3), (95.7, 73.7),
    (97.2, 93.3), (74.2, 53.1), (81.9, 52.4), (81.1, 50.2), (82.8, 50.2), (84.3, 50.2), (89.0, 50.2),
    (76.1, 46.2), (80.4, 45.5), (80.4, 44.0), (84.0, 46.9), (80.2, 41.9), (72.3, 41.9), (73.3, 41.9),
    (74.2, 41.9), (70.4, 41.6), (76.1, 42.8), (68.7, 47.4), (67.3, 46.4), (61.5, 48.3), (61.5, 42.6),
    (56.3, 46.4), (56.7, 44.5), (60.3, 40.9), (66.6, 39.2), (68.0, 39.9), (69.4, 39.5), (70.4, 38.3),
    (64.6, 38.0), (65.6, 37.8), (66.3, 37.6), (52.2, 47.6), (50.5, 46.4), (49.3, 45.7), (47.7, 42.1),
    (46.7, 39.2), (48.9, 42.6),
]

x_ticks = [0, 20, 40, 60, 80, 100]
y_ticks = [0, 10, 20, 30, 40, 50, 60, 70, 80, 90, 100]
axis_range = [-5, 100]
panel_title = "Ionization vs. Phonon Signals"
x_label = "Phonon [keV]"
y_label = "Ionization [keV]"

POINT_COLOR = "#0000ff"


def px(x):
    return x / W


def py(y):
    return 1 - y / H


fig = go.Figure()

panels = [
    ("x", "y", [si_electron, si_nuclear, si_other]),
    ("x2", "y2", [ge_electron, ge_nuclear, ge_other]),
]
for xa, ya, groups in panels:
    for pts in groups:
        fig.add_trace(go.Scatter(
            x=[p[0] for p in pts], y=[p[1] for p in pts],
            mode="markers", xaxis=xa, yaxis=ya,
            marker=dict(symbol="square", size=3.4, color=POINT_COLOR, line=dict(width=0)),
            hoverinfo="x+y", showlegend=False,
        ))

tick_font = dict(family="DejaVu Serif", size=23, color="black")
axis_common = dict(
    range=axis_range, showgrid=False, zeroline=False,
    showline=True, linecolor="black", linewidth=2, mirror="ticks",
    ticks="inside", ticklen=8, tickwidth=2, tickcolor="black",
    tickfont=tick_font, fixedrange=True,
)

left_dom = [px(107), px(838)]
right_dom = [px(1034), px(1768)]
y_dom = [py(787), py(53)]

fig.update_layout(
    width=W, height=H,
    margin=dict(l=0, r=0, t=0, b=0),
    paper_bgcolor="white", plot_bgcolor="white",
    showlegend=False,
    xaxis=dict(domain=left_dom, anchor="y", tickvals=x_ticks, **axis_common),
    yaxis=dict(domain=y_dom, anchor="x", tickvals=y_ticks, **axis_common),
    xaxis2=dict(domain=right_dom, anchor="y2", tickvals=x_ticks, **axis_common),
    yaxis2=dict(domain=y_dom, anchor="x2", tickvals=y_ticks, **axis_common),
)

# heavier frame edges along the top and bottom of each panel
shapes = []
for x0, x1 in (left_dom, right_dom):
    for yy in (y_dom[0], y_dom[1]):
        shapes.append(dict(type="line", xref="paper", yref="paper",
                           x0=x0, x1=x1, y0=yy, y1=yy,
                           line=dict(color="black", width=4)))
fig.update_layout(shapes=shapes)

ann = []
serif_title = dict(family="Liberation Serif", size=36.5, color="black")
label_font = dict(family="DejaVu Serif", size=25, color="black")
big = dict(family="Liberation Sans, Arial", size=48)

# panel titles and axis labels
for cx in (487, 1416):
    ann.append(dict(text=panel_title, x=px(cx), y=py(23), xref="paper", yref="paper",
                    xanchor="center", yanchor="middle", showarrow=False, font=serif_title))
for cx in (474, 1400):
    ann.append(dict(text=x_label, x=px(cx), y=py(845), xref="paper", yref="paper",
                    xanchor="center", yanchor="middle", showarrow=False, font=label_font))
for cx in (30, 958):
    ann.append(dict(text=y_label, x=px(cx), y=py(418), xref="paper", yref="paper",
                    xanchor="center", yanchor="middle", textangle=-90, showarrow=False,
                    font=label_font))

# detector labels
ann.append(dict(text="Si ZIP", x=px(155), y=py(125), xref="paper", yref="paper",
                xanchor="left", yanchor="middle", showarrow=False,
                font=dict(big, color="#ff0099")))
ann.append(dict(text="Ge ZIP", x=px(1064), y=py(125), xref="paper", yref="paper",
                xanchor="left", yanchor="middle", showarrow=False,
                font=dict(big, color="#008000")))

# electron-recoil callout
for line, yb in (("Bulk Electron Recoils (Gammas, X-rays", 238),
                 ("and high-energy electrons)", 295)):
    ann.append(dict(text=line, x=px(606), y=py(yb - 16.6), xref="paper", yref="paper",
                    xanchor="left", yanchor="middle", showarrow=False,
                    font=dict(big, color="black")))

# nuclear-recoil callout
for line, yb in (("Bulk nuclear recoils", 568), ("(neutrons and", 625.5), ("WIMPS)", 683)):
    ann.append(dict(text=line, x=px(770), y=py(yb - 16.6), xref="paper", yref="paper",
                    xanchor="left", yanchor="middle", showarrow=False,
                    font=dict(big, color="#ff0000")))

# arrows: (tail, tip, colour), in page pixels
arrows = [
    ((663, 308), (580, 318), "black"),
    ((1191, 287), (1444, 299), "black"),
    ((750, 558), (510, 594), "#ff0000"),
    ((1096, 610), (1267, 620), "#ff0000"),
]
for (tx, ty), (hx, hy), col in arrows:
    ann.append(dict(text="", x=px(hx), y=py(hy), ax=tx - hx, ay=ty - hy,
                    xref="paper", yref="paper", axref="pixel", ayref="pixel",
                    showarrow=True, arrowhead=2, arrowsize=1, arrowwidth=2.5,
                    arrowcolor=col, standoff=0, startstandoff=0))

fig.update_layout(annotations=ann)

fig.write_html("out.html")
